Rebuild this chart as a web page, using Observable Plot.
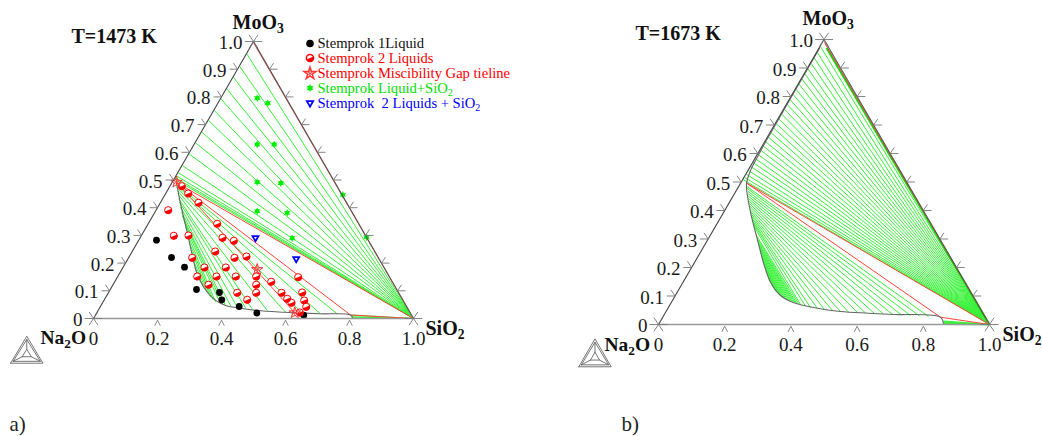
<!DOCTYPE html>
<html>
<head>
<meta charset="utf-8">
<script src="https://cdn.jsdelivr.net/npm/d3@7"></script>
<script src="https://cdn.jsdelivr.net/npm/@observablehq/plot@0.6"></script>
<style>
html,body{margin:0;padding:0;background:#fff;}
#chart{position:relative;width:1042px;height:436px;overflow:hidden;}
#chart svg{position:absolute;top:0;overflow:visible;max-width:none;}
</style>
</head>
<body>
<div id="chart"></div>
<script>
// All compositions are mole fractions: [SiO2, MoO3]
const leftTicks = [0.1,0.2,0.3,0.4,0.5,0.6,0.7,0.8,0.9];
const bottomTicks = [0.2,0.4,0.6,0.8];
const leftLabels = [[0,"0"],[0.1,"0.1"],[0.2,"0.2"],[0.3,"0.3"],[0.4,"0.4"],[0.5,"0.5"],[0.6,"0.6"],[0.7,"0.7"],[0.8,"0.8"],[0.9,"0.9"],[1,"1.0"]];
const bottomLabels = [[0,"0"],[0.2,"0.2"],[0.4,"0.4"],[0.6,"0.6"],[0.8,"0.8"],[1,"1.0"]];

// Panel a) T=1473 K
const aCurve = [[0.0135,0.491],[0.065,0.414],[0.137,0.3115],[0.191,0.2336],[0.243,0.1614],[0.288,0.113],[0.340,0.0711],[0.389,0.0469],[0.430,0.0386],[0.497,0.0289],[0.584,0.0227],[0.7005,0.017],[0.797,0.0126],[0.81,0]];
const aFanMoO3 = [0.955,0.91,0.871,0.829,0.793,0.751,0.715,0.673,0.634,0.594,0.552,0.526,0.515,0.508,0.503];
const aTieStart = [[0.0175,0.4838],[0.0194,0.480],[0.0224,0.474],[0.0306,0.462],[0.0384,0.450],[0.0506,0.432],[0.0588,0.42],[0.071,0.402],[0.083,0.384],[0.091,0.372],[0.105,0.354],[0.1225,0.33],[0.14,0.306],[0.1615,0.275],[0.182,0.2455],[0.202,0.2155],[0.2235,0.185]];
const aTieEnd = [[0.754,0.0162],[0.7005,0.017],[0.643,0.0191],[0.5886,0.0227],[0.5284,0.0289],[0.478,0.035],[0.456,0.0386],[0.429,0.0408],[0.408,0.0433],[0.389,0.0469],[0.380,0.0495],[0.3705,0.053],[0.352,0.059],[0.340,0.0675],[0.3275,0.077],[0.3075,0.095],[0.288,0.113]];
const aFloor = [[0.80,0.012],[0.805,0.006],[0.81,0.002]];
const aRed = [[[0.003,0.995],[1,0]],[[0.0135,0.491],[1,0]],[[0.0135,0.491],[0.797,0.0126]],[[0.797,0.0126],[1,0]],[[0.0134,0.492],[0.6188,0.0206]]];
const oneLiquid = [[0.0555,0.2827],[0.1337,0.2202],[0.1918,0.1852],[0.2695,0.1047],[0.3468,0.0939],[0.3672,0.0675],[0.4336,0.0433],[0.5004,0.0199],[0.6512,0.0119]];
const twoLiquids = [[0.0379,0.391],[0.1016,0.2986],[0.0371,0.4776],[0.0703,0.4513],[0.1193,0.4177],[0.2156,0.3419],[0.2575,0.2913],[0.2982,0.2805],[0.1471,0.2996],[0.2594,0.2419],[0.3311,0.2191],[0.3662,0.2238],[0.1989,0.2191],[0.2548,0.1841],[0.3214,0.1841],[0.2483,0.1516],[0.3086,0.1516],[0.3689,0.1516],[0.2985,0.1217],[0.4027,0.0928],[0.4466,0.0675],[0.4326,0.1516],[0.4476,0.1217],[0.462,0.0928],[0.4891,0.1325],[0.5411,0.0928],[0.5698,0.0711],[0.5904,0.0567],[0.5651,0.1491],[0.6052,0.0939],[0.6259,0.065],[0.6436,0.0422],[0.6338,0.0217]];
const gapTieline = [[0.0134,0.492],[0.4231,0.1769],[0.6188,0.0206]];
const liquidSiO2 = [[0.1139,0.7953],[0.156,0.7773],[0.1975,0.6282],[0.2506,0.6282],[0.2655,0.4921],[0.3411,0.4885],[0.3179,0.3874],[0.4145,0.3816],[0.476,0.2899],[0.5558,0.4466],[0.7064,0.2935]];
const twoLiquidsSiO2 = [[0.3606,0.2913],[0.5257,0.2155]];
const legendRows = ["Stemprok 1Liquid","Stemprok 2 Liquids","Stemprok Miscibility Gap tieline","Stemprok Liquid+SiO₂","Stemprok  2 Liquids + SiO₂"];
const legendColors = ["#111111","#ff0000","#ff0000","#00e000","#0000ff"];

// Panel b) T=1673 K
const bCurve = [[0.002,0.97],[0.003,0.65],[0.005,0.586],[0.008,0.54],[0.019,0.4937],[0.081,0.394],[0.1479,0.3007],[0.2116,0.213],[0.2642,0.1484],[0.3177,0.1018],[0.3585,0.0807],[0.4171,0.0642],[0.527,0.0456],[0.6155,0.0396],[0.6933,0.0351],[0.8392,0.0256],[0.861,0]];
const bFanMoO3 = [0.975,0.955,0.936,0.917,0.898,0.88,0.862,0.844,0.826,0.808,0.79,0.773,0.756,0.739,0.722,0.706,0.69,0.674,0.658,0.642,0.627,0.612,0.597,0.582,0.568,0.554,0.54,0.527,0.516,0.508];
const bTieStart = [[0.025,0.4842],[0.0294,0.4772],[0.0347,0.4684],[0.0403,0.4596],[0.0455,0.4509],[0.0509,0.4421],[0.0565,0.4333],[0.062,0.4246],[0.0673,0.4158],[0.0729,0.407],[0.0782,0.3982],[0.0841,0.3895],[0.0906,0.3807],[0.0968,0.3719],[0.103,0.3632],[0.1095,0.3544],[0.1169,0.3439],[0.1396,0.3123],[0.1473,0.3018],[0.1547,0.2912],[0.1609,0.2825],[0.1674,0.2737],[0.1739,0.2649],[0.1801,0.2561],[0.1866,0.2474],[0.1928,0.2386],[0.1993,0.2298],[0.2058,0.2211],[0.2135,0.2105],[0.222,0.2],[0.2307,0.1895],[0.2407,0.1772],[0.2505,0.1649],[0.263,0.1509]];
const bTieEnd = [[0.8017,0.0281],[0.7736,0.0298],[0.7455,0.0316],[0.7175,0.0333],[0.6894,0.0351],[0.6614,0.0368],[0.6333,0.0386],[0.6052,0.0404],[0.5801,0.0421],[0.552,0.0439],[0.527,0.0456],[0.5011,0.0491],[0.4752,0.0526],[0.4523,0.0561],[0.4294,0.0596],[0.4116,0.0649],[0.3939,0.0702],[0.3861,0.0737],[0.3792,0.0754],[0.3738,0.0772],[0.3685,0.0789],[0.363,0.0807],[0.3576,0.0825],[0.3522,0.0842],[0.3464,0.0867],[0.3408,0.0888],[0.3351,0.0912],[0.3288,0.0947],[0.3225,0.0982],[0.3154,0.1035],[0.3081,0.1088],[0.2995,0.114],[0.2914,0.1211],[0.2825,0.1298]];
const bFloor = [[0.855,0.012],[0.858,0.008],[0.861,0.004],[0.862,0.001]];
const bRed = [[[0.006,0.99],[1,0]],[[0.0164,0.4972],[1,0]],[[0.0164,0.4972],[0.8392,0.0256]],[[0.8392,0.0256],[1,0]]];
const bEdgeGreen = [[0.0227,0.97],[1,0]];

// The triangle logo: open polylines in unit coordinates
const logoLines = [
  [[0,0],[1,0],[0.5,1],[0,0]],
  [[0.08,0.07],[0.92,0.07],[0.5,0.88],[0.08,0.07]],
  [[0.36,0.24],[0.64,0.24],[0.5,0.52],[0.36,0.24]],
  [[0.08,0.07],[0.36,0.24]],[[0.92,0.07],[0.64,0.24]],[[0.5,0.88],[0.5,0.52]]
];

const GREEN="#38f238", RED="#ff4438", GRAY="#666", SERIF="Liberation Serif";
const hx = p => p[0] + p[1]/2;   // horizontal position of a composition in the triangle
const my = p => p[1];
const sinA = Math.sqrt(3)/2;

const halfDisc = {draw(ctx,size){const r=Math.sqrt(size/Math.PI),a=-Math.PI/8;ctx.moveTo(r*Math.cos(a),r*Math.sin(a));ctx.arc(0,0,r,a,a+Math.PI);ctx.closePath();}};

function segments(starts,ends){return starts.map((s,i)=>[s,ends[i]]);}
function seg(data,o){return Plot.link(data,{x1:d=>hx(d[0]),y1:d=>my(d[0]),x2:d=>hx(d[1]),y2:d=>my(d[1]),...o});}

function frame(){
  const L=0.025, G="#777";
  const vertex=[[0,0],[1,0],[0.5,1]];
  const dirs=[[1,0],[0.5,sinA],[-0.5,sinA]];
  const star=vertex.flatMap(v=>dirs.map(d=>({x1:v[0]-d[0]*L*1.1,y1:v[1]-d[1]*L*1.1,x2:v[0]+d[0]*L*1.1,y2:v[1]+d[1]*L*1.1})));
  const arms=[
    ...leftTicks.flatMap(t=>[{x1:t/2,y1:t,x2:t/2-L,y2:t},{x1:t/2,y1:t,x2:t/2-L/2,y2:t+L*sinA}]),
    ...leftTicks.flatMap(t=>[{x1:1-t/2,y1:t,x2:1-t/2+L,y2:t},{x1:1-t/2,y1:t,x2:1-t/2+L/2,y2:t+L*sinA}]),
    ...bottomTicks.flatMap(t=>[{x1:t,y1:-0.006,x2:t-L*0.35,y2:-0.006-L*0.8},{x1:t,y1:-0.006,x2:t+L*0.35,y2:-0.006-L*0.8}])
  ];
  const lk=(data,o)=>Plot.link(data,{x1:"x1",y1:"y1",x2:"x2",y2:"y2",...o});
  return [
    lk([{x1:0,y1:0,x2:1,y2:0}],{stroke:"#999",strokeWidth:1.6}),
    lk([{x1:0,y1:0,x2:0.5,y2:1}],{stroke:"#444",strokeWidth:1.1}),
    lk([{x1:0.5,y1:1,x2:1,y2:0}],{stroke:"#555",strokeWidth:1.1}),
    lk(arms,{stroke:G,strokeWidth:0.9}),
    lk(star,{stroke:G,strokeWidth:0.9})
  ];
}

function tickText(cfg){
  const t={fontFamily:SERIF,fontSize:19,fill:"#1a1a1a"};
  return [
    Plot.text(leftLabels,{x:d=>d[0]/2,y:d=>d[0],text:d=>d[1],textAnchor:"end",dx:-11,dy:1.5,...t}),
    Plot.text(bottomLabels,{x:d=>d[0],y:()=>0,text:d=>d[1],dy:cfg.tickDy,...t})
  ];
}

function logo(cfg){
  const rows=logoLines.flatMap((l,k)=>l.map(p=>({k,x:cfg.logo[0]+p[0]*cfg.logo[2],y:cfg.logo[1]+p[1]*cfg.logo[3]})));
  return Plot.line(rows,{x:"x",y:"y",z:"k",stroke:"#666",strokeWidth:0.9,curve:"linear"});
}

function fixed(str,dx,dy,o){
  return Plot.text([str],{frameAnchor:"top-left",text:d=>d,dx,dy,textAnchor:"start",lineAnchor:"middle",fontFamily:SERIF,...o});
}

function subscripts(n){
  const s=n.textContent;
  if(!/[₂₃]/.test(s)) return;
  const parts=s.split(/([₂₃])/).filter(p=>p.length);
  let html="",pending=false;
  for(const p of parts){
    if(p==="₂"||p==="₃"){
      html+=`<tspan dy=".32em" font-size="68%">${p==="₂"?"2":"3"}</tspan>`;
      pending=true;
    }else{
      html+=pending?`<tspan dy="-.22em">${p}</tspan>`:p;
      pending=false;
    }
  }
  n.innerHTML=html;
}

function panel(cfg,marks){
  const svg=Plot.plot({
    width:521,height:436,
    marginLeft:0,marginRight:0,marginTop:0,marginBottom:0,
    style:{fontFamily:SERIF,background:"transparent"},
    x:{axis:null,domain:[0,1],range:cfg.xr},
    y:{axis:null,domain:[0,1],range:cfg.yr},
    marks:[...marks,...frame(),...tickText(cfg),logo(cfg)]
  });
  svg.style.left=cfg.left+"px";
  svg.querySelectorAll("text").forEach(t=>{
    t.style.whiteSpace="pre";
    const leaf=t.querySelector("tspan")||t;
    subscripts(leaf);
  });
  document.getElementById("chart").appendChild(svg);
}

// ------- panel a
const bold={fontWeight:"bold",fontSize:20,fill:"#111"};
const aMarks=[
  seg(aFanMoO3.map(m=>[[0.002,m],[1,0]]),{stroke:GREEN,strokeWidth:1}),
  seg(segments(aTieStart,aTieEnd),{stroke:GREEN,strokeWidth:1}),
  seg(aFloor.map(p=>[p,[1,0]]),{stroke:GREEN,strokeWidth:1.2}),
  seg(aRed,{stroke:RED,strokeWidth:1}),
  Plot.line(aCurve,{x:hx,y:my,stroke:GRAY,strokeWidth:1.1,curve:"catmull-rom"}),
  Plot.dot(oneLiquid,{x:hx,y:my,r:3.4,fill:"#000"}),
  Plot.dot(twoLiquids,{x:hx,y:my,r:3.6,fill:"#fff",stroke:"#f00",strokeWidth:1}),
  Plot.dot(twoLiquids,{x:hx,y:my,r:3.6,fill:"#f00",symbol:halfDisc}),
  Plot.dot(gapTieline,{x:hx,y:my,r:3.6,symbol:"star",fill:"none",stroke:"#f33",strokeWidth:1}),
  Plot.dot(gapTieline,{x:hx,y:my,r:3.2,symbol:"asterisk",stroke:"#f33",strokeWidth:0.8}),
  Plot.dot(liquidSiO2,{x:hx,y:my,r:2.4,fill:"#00ee00"}),
  Plot.dot(liquidSiO2,{x:hx,y:my,r:3.2,symbol:"asterisk",stroke:"#00ee00",strokeWidth:0.9}),
  Plot.dot(twoLiquidsSiO2,{x:hx,y:my,r:2.2,symbol:"triangle",rotate:180,fill:"#fff",stroke:"#0000ff",strokeWidth:1.8}),
  // legend
  Plot.dot([0],{frameAnchor:"top-left",dx:309.5,dy:43,r:3.8,fill:"#000"}),
  Plot.dot([0],{frameAnchor:"top-left",dx:309.5,dy:57.5,r:3.6,fill:"#fff",stroke:"#f00"}),
  Plot.dot([0],{frameAnchor:"top-left",dx:309.5,dy:57.5,r:3.6,fill:"#f00",symbol:halfDisc}),
  Plot.dot([0],{frameAnchor:"top-left",dx:309.5,dy:73,r:3.8,symbol:"star",fill:"none",stroke:"#f33"}),
  Plot.dot([0],{frameAnchor:"top-left",dx:309.5,dy:73,r:3.2,symbol:"asterisk",stroke:"#f33",strokeWidth:0.8}),
  Plot.dot([0],{frameAnchor:"top-left",dx:309.5,dy:87.5,r:2.6,fill:"#00ee00"}),
  Plot.dot([0],{frameAnchor:"top-left",dx:309.5,dy:87.5,r:3.4,symbol:"asterisk",stroke:"#00ee00",strokeWidth:0.9}),
  Plot.dot([0],{frameAnchor:"top-left",dx:309.5,dy:102.5,r:2.3,symbol:"triangle",rotate:180,fill:"#fff",stroke:"#0000ff",strokeWidth:1.8}),
  ...legendRows.map((s,i)=>fixed(s,317,[43,57.5,73,87.5,103][i],{fontSize:14.6,fill:legendColors[i]})),
  fixed("T=1473 K",71,36,bold),
  fixed("MoO₃",232,22,bold),
  fixed("Na₂O",40,337,{...bold,fontSize:19.5}),
  fixed("SiO₂",425,328,bold),
  fixed("a)",9,424,{fontSize:21,fill:"#222"})
];
panel({left:0,xr:[93,413],yr:[318,41],tickDy:20,logo:[-0.259,-0.1614,0.101,0.0975]},aMarks);

// ------- panel b
const bMarks=[
  seg(bFanMoO3.map(m=>[[0.002,m],[1,0]]),{stroke:GREEN,strokeWidth:1}),
  seg(segments(bTieStart,bTieEnd),{stroke:GREEN,strokeWidth:1}),
  seg(bFloor.map(p=>[p,[1,0]]),{stroke:GREEN,strokeWidth:1.4}),
  seg([[bEdgeGreen[0],bEdgeGreen[1]]],{stroke:"#00e000",strokeWidth:2}),
  seg(bRed,{stroke:RED,strokeWidth:1}),
  Plot.line(bCurve,{x:hx,y:my,stroke:GRAY,strokeWidth:1.1,curve:"catmull-rom"}),
  fixed("T=1673 K",114,33,bold),
  fixed("MoO₃",281,18,bold),
  fixed("Na₂O",83,344,{...bold,fontSize:19.5}),
  fixed("SiO₂",481,334,bold),
  fixed("b)",100,424,{fontSize:21,fill:"#222"})
];
panel({left:521,xr:[137,468],yr:[324,39],tickDy:20,logo:[-0.2408,-0.1484,0.0979,0.0982]},bMarks);
</script>
</body>
</html>
